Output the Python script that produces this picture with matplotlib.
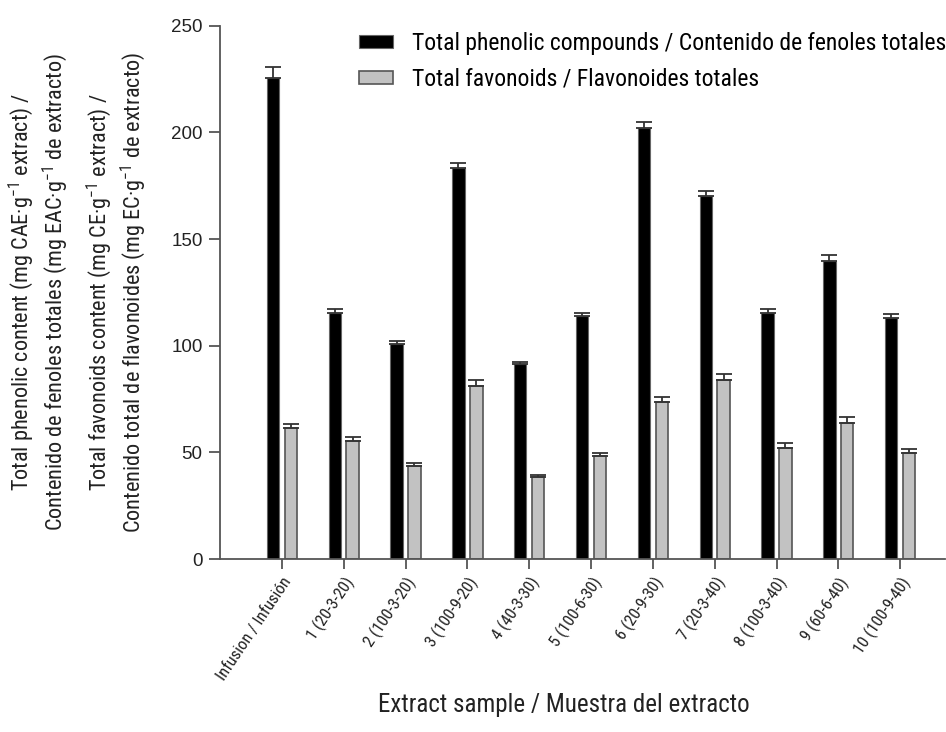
import matplotlib
matplotlib.use("Agg")
import matplotlib.pyplot as plt
import numpy as np

samples = ["Infusion / Infusión", "1 (20-3-20)", "2 (100-3-20)", "3 (100-9-20)",
           "4 (40-3-30)", "5 (100-6-30)", "6 (20-9-30)", "7 (20-3-40)",
           "8 (100-3-40)", "9 (60-6-40)", "10 (100-9-40)"]
phenolic = [225.4, 115.3, 101.0, 183.2, 91.2, 113.8, 201.9, 170.2, 115.5, 139.9, 112.8]
phenolic_err = [5.1, 1.8, 1.2, 2.3, 1.2, 1.5, 3.0, 2.5, 1.9, 2.5, 2.1]
flavonoids = [61.3, 55.3, 43.7, 81.1, 38.5, 48.2, 73.5, 83.9, 52.2, 63.6, 49.6]
flavonoids_err = [2.0, 2.0, 1.2, 2.7, 1.0, 1.4, 2.6, 2.7, 2.0, 2.8, 2.1]
yticks = [0, 50, 100, 150, 200, 250]

narrow = ["Roboto Condensed", "DejaVu Sans"]
plt.rcParams["font.family"] = ["Liberation Sans", "DejaVu Sans"]
plt.rcParams["mathtext.fontset"] = "custom"
plt.rcParams["mathtext.rm"] = "Roboto Condensed"

fig = plt.figure(figsize=(9.46, 7.32), dpi=100)
ax = fig.add_axes([0.2326, 0.2363, 0.766, 0.7286])

x = np.arange(len(samples))
w = 0.2
off = 0.145
err_kw = dict(ecolor="#333333", elinewidth=1.3, capsize=5.5, capthick=1.3)
ax.bar(x - off, phenolic, w, color="black", edgecolor="#666666", linewidth=0.8,
       yerr=[np.zeros(len(x)), phenolic_err], error_kw=err_kw,
       label="Total phenolic compounds / Contenido de fenoles totales")
ax.bar(x + off, flavonoids, w, color="#c2c2c2", edgecolor="#555555", linewidth=1.2,
       yerr=[np.zeros(len(x)), flavonoids_err], error_kw=err_kw,
       label="Total favonoids / Flavonoides totales")

ax.set_xlim(-1, 10.72)
ax.set_ylim(0, 250)
ax.set_yticks(yticks)
ax.set_yticklabels([str(t) for t in yticks], fontsize=13.5, color="#222222")
ax.set_xticks(x)
ax.set_xticklabels(samples, rotation=56, ha="right", va="top", rotation_mode="anchor",
                   fontsize=12, family=narrow, color="#222222")
ax.tick_params(axis="y", length=8, width=1.3, color="#555555", pad=4.5)
ax.tick_params(axis="x", length=7, width=1.3, color="#555555", pad=4)

for s in ["top", "right"]:
    ax.spines[s].set_visible(False)
for s in ["left", "bottom"]:
    ax.spines[s].set_color("#555555")
    ax.spines[s].set_linewidth(1.3)

fig.text(564 / 946, 0.02, "Extract sample / Muestra del extracto", ha="center", va="bottom",
         fontsize=18, family=narrow, color="#222222")

ylab_a = "Total phenolic content (mg CAE·g$^{-1}$ extract) /\nContenido de fenoles totales (mg EAC·g$^{-1}$ de extracto)"
ylab_b = "Total favonoids content (mg CE·g$^{-1}$ extract) /\nContenido total de flavonoides (mg EC·g$^{-1}$ de extracto)"
fig.text(38 / 946, 1 - 292 / 732, ylab_a, rotation=90, ha="center", va="center",
         fontsize=16, family=narrow, color="#222222", linespacing=1.2)
fig.text(116 / 946, 1 - 292 / 732, ylab_b, rotation=90, ha="center", va="center",
         fontsize=16, family=narrow, color="#222222", linespacing=1.2)

ax.legend(loc="upper left", bbox_to_anchor=(359 / 946, 1 - 32 / 732), bbox_transform=fig.transFigure,
          frameon=False, prop={"family": narrow, "size": 17}, handlelength=1.45, handleheight=0.5,
          handletextpad=0.8, labelspacing=0.55, borderpad=0, borderaxespad=0)

fig.savefig("out.png", dpi=100)
